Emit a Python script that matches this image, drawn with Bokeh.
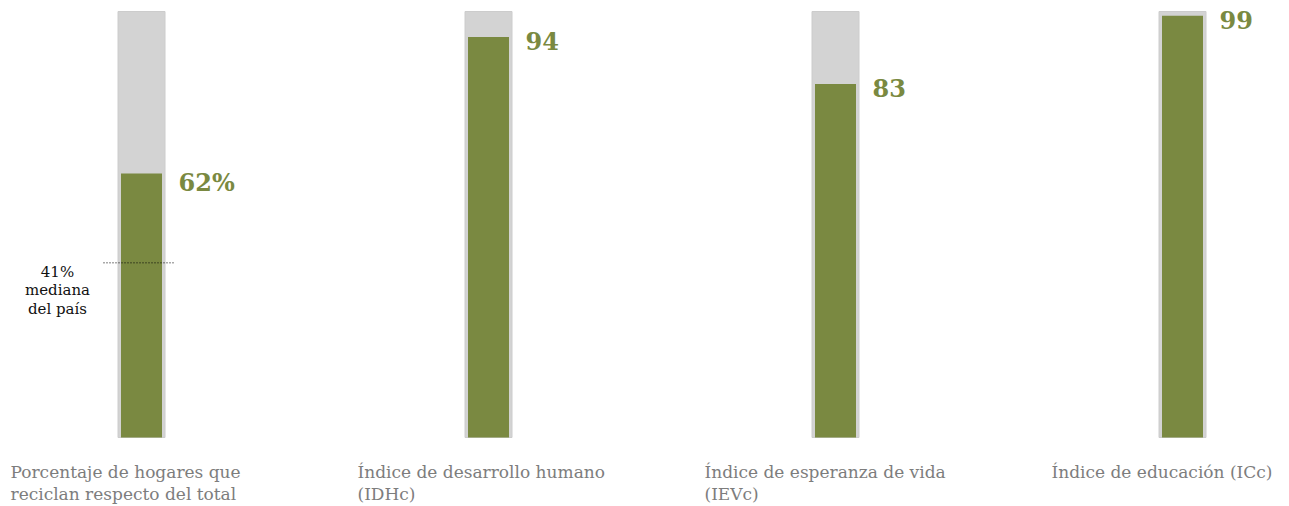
from bokeh.plotting import figure
from bokeh.models import Range1d, ColumnDataSource
from bokeh.core.properties import value
from bokeh.embed import file_html
from bokeh.resources import INLINE

categories = [
    "Porcentaje de hogares que\nreciclan respecto del total",
    "Índice de desarrollo humano\n(IDHc)",
    "Índice de esperanza de vida\n(IEVc)",
    "Índice de educación (ICc)",
]
values = [62, 94, 83, 99]
value_labels = ["62%", "94", "83", "99"]
max_values = [100, 100, 100, 100]
median_value = 41
median_label = "41%\nmediana\ndel país"

GREEN = "#7a8941"
GRAY_BG = "#d3d3d3"
LABEL_GRAY = "#7d7d7d"
FONT = "DejaVu Serif"

W, H = 1289, 506
PX_PER_CAT = 347.0
X0_PX = 141.0
PX_PER_UNIT = 4.26
Y0_PX = 437.0

idx = list(range(len(categories)))
src = ColumnDataSource(dict(x=idx, v=values, vmax=max_values, vl=value_labels, cat=categories))

p = figure(width=W, height=H, output_backend="svg", toolbar_location=None,
           x_range=Range1d(-X0_PX / PX_PER_CAT, (W - X0_PX) / PX_PER_CAT),
           y_range=Range1d(-(H - Y0_PX) / PX_PER_UNIT, 100 + 11 / PX_PER_UNIT),
           min_border=0, outline_line_color=None)
p.axis.visible = False
p.grid.visible = False
p.background_fill_color = "white"
p.border_fill_color = "white"

p.vbar(x="x", top="vmax", bottom=0, width=47 / PX_PER_CAT, source=src,
       fill_color=GRAY_BG, line_color="#cccccc", line_width=1)
p.vbar(x="x", top="v", bottom=0, width=41 / PX_PER_CAT, source=src,
       fill_color=GREEN, line_color=None)

p.text(x="x", y="v", text="vl", source=src, x_offset=37, y_offset=-5,
       text_align="left", text_baseline="top", text_color=GREEN,
       text_font=value(FONT), text_font_style="bold", text_font_size="24px")

p.text(x="x", y=0, text="cat", source=src, x_offset=-131, y_offset=24,
       text_align="left", text_baseline="top", text_color=LABEL_GRAY,
       text_font=value(FONT), text_font_size="17px", text_line_height=1.1)

# median marker on first bar
p.segment(x0=[idx[0] - 38 / PX_PER_CAT], x1=[idx[0] + 33 / PX_PER_CAT],
          y0=[median_value], y1=[median_value], line_color="#000000",
          line_width=1, line_dash="1 2")
p.text(x=[idx[0]], y=[median_value], text=[median_label], x_offset=-84, y_offset=0,
       text_align="center", text_baseline="top", text_color="#111111",
       text_font=value(FONT), text_font_size="15px", text_line_height=1.03)

open("out.html", "w").write(file_html(p, INLINE))
